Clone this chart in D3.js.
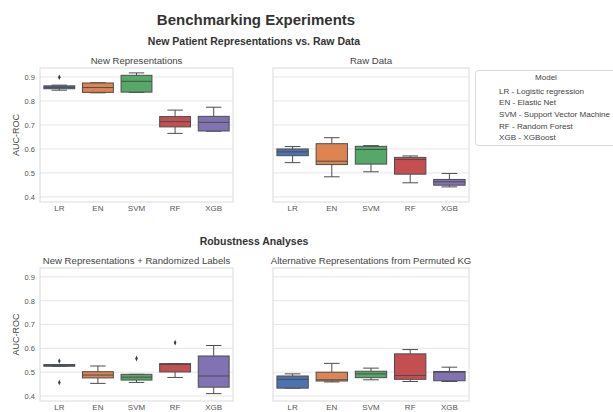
<!DOCTYPE html>
<html>
<head>
<meta charset="utf-8">
<script src="https://cdn.jsdelivr.net/npm/d3@7"></script>
<style>
  html, body { margin: 0; padding: 0; background: #fff; }
  svg { display: block; font-family: "Liberation Sans", Arial, sans-serif; }
</style>
</head>
<body>
<svg id="chart" width="613" height="412"></svg>
<script>
// Models compared in every panel
const models = ["LR", "EN", "SVM", "RF", "XGB"];
const modelNames = ["LR - Logistic regression", "EN - Elastic Net", "SVM - Support Vector Machine", "RF - Random Forest", "XGB - XGBoost"];
const yTicks = [0.4, 0.5, 0.6, 0.7, 0.8, 0.9];

// Box summaries per model: [lower whisker, Q1, median, Q3, upper whisker]
const newRepStats = [
  [0.845, 0.851, 0.857, 0.863, 0.866],
  [0.834, 0.836, 0.856, 0.875, 0.876],
  [0.836, 0.837, 0.882, 0.907, 0.917],
  [0.665, 0.692, 0.714, 0.735, 0.762],
  [0.674, 0.675, 0.711, 0.736, 0.774]
];
const newRepOutliers = [[0.899], [], [], [], []];

const rawDataStats = [
  [0.543, 0.572, 0.588, 0.600, 0.610],
  [0.484, 0.535, 0.549, 0.622, 0.647],
  [0.505, 0.537, 0.598, 0.611, 0.614],
  [0.459, 0.495, 0.556, 0.565, 0.571],
  [0.442, 0.449, 0.463, 0.473, 0.498]
];
const rawDataOutliers = [[], [], [], [], []];

const randomizedStats = [
  [0.525, 0.525, 0.529, 0.532, 0.532],
  [0.453, 0.476, 0.488, 0.502, 0.526],
  [0.457, 0.467, 0.479, 0.491, 0.491],
  [0.478, 0.501, 0.532, 0.536, 0.536],
  [0.410, 0.437, 0.484, 0.568, 0.612]
];
const randomizedOutliers = [[0.547, 0.457], [], [0.557], [0.624], []];

const permutedStats = [
  [0.433, 0.433, 0.470, 0.484, 0.493],
  [0.459, 0.463, 0.468, 0.500, 0.537],
  [0.468, 0.477, 0.493, 0.504, 0.517],
  [0.461, 0.470, 0.486, 0.577, 0.595],
  [0.461, 0.464, 0.500, 0.503, 0.521]
];
const permutedOutliers = [[], [], [], [], []];

const palette = ["#4c72b0", "#dd8452", "#55a868", "#c44e52", "#8172b3"];

const svg = d3.select("#chart");

const panels = [
  { title: "New Representations", stats: newRepStats, outliers: newRepOutliers, x0: 40, x1: 233, y0: 68, y1: 202, yLabels: true },
  { title: "Raw Data", stats: rawDataStats, outliers: rawDataOutliers, x0: 273, x1: 469, y0: 68, y1: 202, yLabels: false },
  { title: "New Representations + Randomized Labels", stats: randomizedStats, outliers: randomizedOutliers, x0: 40, x1: 233, y0: 268, y1: 401, yLabels: true },
  { title: "Alternative Representations from Permuted KG", stats: permutedStats, outliers: permutedOutliers, x0: 273, x1: 469, y0: 268, y1: 401, yLabels: false }
];

const lineColor = "#4d4d4d";

panels.forEach(p => {
  const g = svg.append("g");
  const x = d3.scaleBand().domain(models).range([p.x0, p.x1]).paddingInner(0).paddingOuter(0);
  const y = d3.scaleLinear().domain([0.379, 0.9375]).range([p.y1, p.y0]);

  // frame background
  g.append("rect")
    .attr("x", p.x0).attr("y", p.y0)
    .attr("width", p.x1 - p.x0).attr("height", p.y1 - p.y0)
    .attr("fill", "#fff");

  // horizontal grid
  g.selectAll(".grid").data(yTicks).join("line")
    .attr("x1", p.x0).attr("x2", p.x1)
    .attr("y1", d => y(d)).attr("y2", d => y(d))
    .attr("stroke", "#e6e6e6").attr("stroke-width", 1);

  // frame
  g.append("rect")
    .attr("x", p.x0).attr("y", p.y0)
    .attr("width", p.x1 - p.x0).attr("height", p.y1 - p.y0)
    .attr("fill", "none").attr("stroke", "#dadada").attr("stroke-width", 1);

  // y axis
  const yAxis = g.append("g").attr("transform", `translate(${p.x0},0)`)
    .call(d3.axisLeft(y).tickValues(yTicks).tickFormat(p.yLabels ? d3.format(".1f") : () => "").tickSize(0).tickPadding(5));
  yAxis.select(".domain").remove();
  yAxis.selectAll("text").attr("fill", "#555").style("font-size", "7.5px");

  // x axis
  const xAxis = g.append("g").attr("transform", `translate(0,${p.y1})`)
    .call(d3.axisBottom(x).tickSize(0).tickPadding(3));
  xAxis.select(".domain").remove();
  xAxis.selectAll("text").attr("fill", "#555").style("font-size", "8px");

  // panel title
  g.append("text")
    .attr("x", (p.x0 + p.x1) / 2).attr("y", p.y0 - 4)
    .attr("text-anchor", "middle")
    .attr("fill", "#444").style("font-size", "9.6px")
    .text(p.title);

  if (p.yLabels) {
    g.append("text")
      .attr("transform", `translate(${p.x0 - 21},${(p.y0 + p.y1) / 2}) rotate(-90)`)
      .attr("text-anchor", "middle")
      .attr("fill", "#444").style("font-size", "9px")
      .text("AUC-ROC");
  }

  // boxes
  const bw = x.bandwidth() * 0.8;
  const capW = bw * 0.5;
  p.stats.forEach((s, i) => {
    const cx = x(models[i]) + x.bandwidth() / 2;
    const [lo, q1, med, q3, hi] = s;
    const bg = g.append("g");
    bg.append("line").attr("x1", cx).attr("x2", cx).attr("y1", y(hi)).attr("y2", y(q3))
      .attr("stroke", lineColor).attr("stroke-width", 1);
    bg.append("line").attr("x1", cx).attr("x2", cx).attr("y1", y(q1)).attr("y2", y(lo))
      .attr("stroke", lineColor).attr("stroke-width", 1);
    bg.append("line").attr("x1", cx - capW / 2).attr("x2", cx + capW / 2).attr("y1", y(hi)).attr("y2", y(hi))
      .attr("stroke", lineColor).attr("stroke-width", 1);
    bg.append("line").attr("x1", cx - capW / 2).attr("x2", cx + capW / 2).attr("y1", y(lo)).attr("y2", y(lo))
      .attr("stroke", lineColor).attr("stroke-width", 1);
    bg.append("rect")
      .attr("x", cx - bw / 2).attr("y", y(q3))
      .attr("width", bw).attr("height", Math.max(1, y(q1) - y(q3)))
      .attr("fill", palette[i]).attr("stroke", lineColor).attr("stroke-width", 1);
    bg.append("line").attr("x1", cx - bw / 2).attr("x2", cx + bw / 2).attr("y1", y(med)).attr("y2", y(med))
      .attr("stroke", lineColor).attr("stroke-width", 1);
    // outliers as small diamonds
    bg.selectAll(".out").data(p.outliers[i]).join("path")
      .attr("d", d3.symbol(d3.symbolDiamond, 9))
      .attr("transform", d => `translate(${cx},${y(d)}) scale(0.8,1)`)
      .attr("fill", "#3a3a3a");
  });
});

// figure titles
svg.append("text").attr("x", 256).attr("y", 25).attr("text-anchor", "middle")
  .attr("fill", "#333").style("font-size", "15px").style("font-weight", "bold")
  .text("Benchmarking Experiments");
svg.append("text").attr("x", 254).attr("y", 45).attr("text-anchor", "middle")
  .attr("fill", "#333").style("font-size", "10.5px").style("font-weight", "bold")
  .text("New Patient Representations vs. Raw Data");
svg.append("text").attr("x", 254).attr("y", 245).attr("text-anchor", "middle")
  .attr("fill", "#333").style("font-size", "10.5px").style("font-weight", "bold")
  .text("Robustness Analyses");

// legend
const lg = svg.append("g");
lg.append("rect").attr("x", 475.5).attr("y", 70.5).attr("width", 145).attr("height", 75).attr("rx", 3)
  .attr("fill", "#fff").attr("stroke", "#d8d8d8").attr("stroke-width", 1);
lg.append("text").attr("x", 546).attr("y", 80).attr("text-anchor", "middle")
  .attr("fill", "#444").style("font-size", "8px").text("Model");
lg.selectAll(".entry").data(modelNames).join("text")
  .attr("x", 499).attr("y", (d, i) => 93.5 + i * 11.7)
  .attr("fill", "#444").style("font-size", "8.1px")
  .text(d => d);
</script>
</body>
</html>
